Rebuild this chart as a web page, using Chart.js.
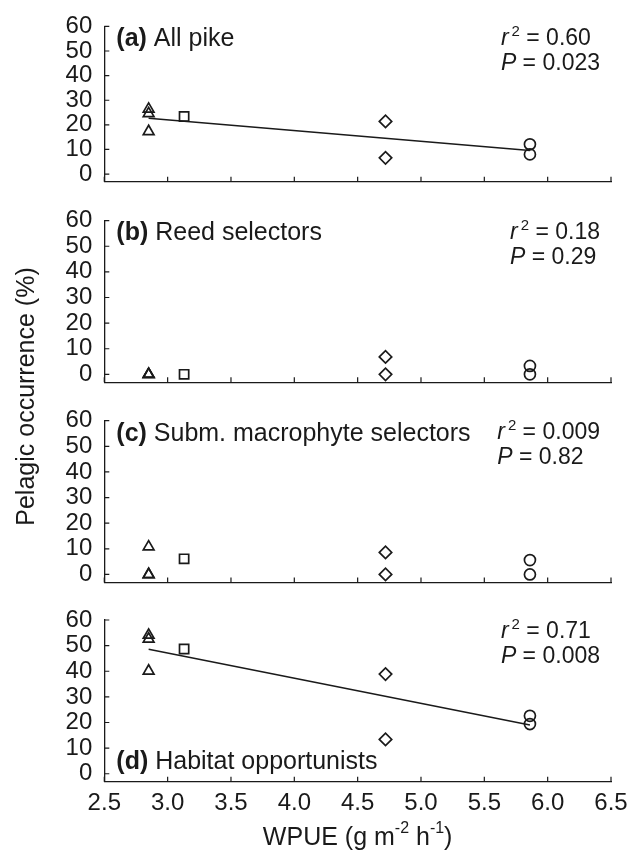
<!DOCTYPE html>
<html>
<head>
<meta charset="utf-8">
<title>Pelagic occurrence vs WPUE</title>
<script src="https://cdn.jsdelivr.net/npm/chart.js@4.4.1/dist/chart.umd.min.js"></script>
<style>
  html, body { margin: 0; padding: 0; background: #fff; }
  #wrap { position: relative; width: 642px; height: 857px; }
  #wrap canvas { position: absolute; left: 0; top: 0; }
</style>
</head>
<body>
<div id="wrap">
  <canvas id="panelA" width="642" height="857"></canvas>
  <canvas id="panelB" width="642" height="857"></canvas>
  <canvas id="panelC" width="642" height="857"></canvas>
  <canvas id="panelD" width="642" height="857"></canvas>
</div>
<script>
// ============================================================
// Pelagic occurrence of pike vs. WPUE – four stacked panels
// ============================================================

// ── Data ─────────────────────────────────────────────────────
const xTicks = [2.5, 3.0, 3.5, 4.0, 4.5, 5.0, 5.5, 6.0, 6.5];
const yTicks = [0, 10, 20, 30, 40, 50, 60];

// WPUE of each lake: triangle, square, diamond, circle
const lakeWpue = [2.85, 3.13, 4.72, 5.86];

// (a) All pike
const pikeTriangle = [26.4, 24.6, 17.3];
const pikeSquare   = [23.4];
const pikeDiamond  = [21.4, 6.6];
const pikeCircle   = [12.1, 8.0];

// (b) Reed selectors
const reedTriangle = [0, 0, 0];
const reedSquare   = [0];
const reedDiamond  = [6.8, 0];
const reedCircle   = [3.3, 0];

// (c) Subm. macrophyte selectors
const submTriangle = [10.8, 0, 0];
const submSquare   = [6.1];
const submDiamond  = [8.6, 0];
const submCircle   = [5.6, 0];

// (d) Habitat opportunists
const oppTriangle = [54.1, 52.6, 40.1];
const oppSquare   = [48.7];
const oppDiamond  = [38.9, 13.4];
const oppCircle   = [22.6, 19.4];

// Regression lines (end points)
const fitX    = [2.85, 5.86];
const pikeFit = [22.7, 9.6];
const oppFit  = [48.6, 19.0];

// ── Styles / layout ──────────────────────────────────────────
const FONT = "'Liberation Sans', Arial, Helvetica, sans-serif";
const INK = '#1a1a1a';
const markerStyle  = ['triangle', 'rect', 'rectRot', 'circle'];
const markerRadius = [6.2, 6.5, 6.2, 5.5];

const CANVAS_H   = 857;
const PLOT_LEFT  = 104.3;
const PLOT_RIGHT = 611;
const PLOT_H     = 161.7;
const Y_MIN = -3.1, Y_MAX = 60;

const panels = [
  { canvas: 'panelA', top: 20,    tag: '(a)', name: ' All pike',
    r2: '0.60', p: '0.023', values: [pikeTriangle, pikeSquare, pikeDiamond, pikeCircle], fit: pikeFit },
  { canvas: 'panelB', top: 220.6, tag: '(b)', name: ' Reed selectors',
    r2: '0.18', p: '0.29', values: [reedTriangle, reedSquare, reedDiamond, reedCircle], fit: null },
  { canvas: 'panelC', top: 420.7, tag: '(c)', name: ' Subm. macrophyte selectors',
    r2: '0.009', p: '0.82', values: [submTriangle, submSquare, submDiamond, submCircle], fit: null },
  { canvas: 'panelD', top: 620,   tag: '(d)', name: ' Habitat opportunists',
    r2: '0.71', p: '0.008', values: [oppTriangle, oppSquare, oppDiamond, oppCircle], fit: oppFit,
    labelBottom: true, isBottom: true }
];

// ── Helpers: draw runs of mixed-font text ────────────────────
function runsWidth(ctx, runs) {
  return runs.reduce((w, r) => {
    ctx.font = r.font;
    return w + ctx.measureText(r.text).width + (r.gap || 0);
  }, 0);
}

function drawRuns(ctx, runs, x, y) {
  runs.forEach(r => {
    ctx.font = r.font;
    x += r.gap || 0;
    ctx.fillText(r.text, x, y + (r.dy || 0));
    x += ctx.measureText(r.text).width;
  });
}

// ── Inward tick marks ────────────────────────────────────────
const innerTicks = {
  id: 'innerTicks',
  afterDraw(chart) {
    const { ctx, chartArea: a, scales: { x, y } } = chart;
    ctx.save();
    ctx.strokeStyle = INK;
    ctx.lineWidth = 1.2;
    ctx.beginPath();
    yTicks.forEach(v => {
      const py = y.getPixelForValue(v);
      ctx.moveTo(a.left, py);
      ctx.lineTo(a.left + 5, py);
    });
    xTicks.forEach(v => {
      const px = x.getPixelForValue(v);
      ctx.moveTo(px, a.bottom);
      ctx.lineTo(px, a.bottom - 5);
    });
    ctx.stroke();
    ctx.restore();
  }
};

// ── Panel label + statistics ─────────────────────────────────
function panelText(panel) {
  return {
    id: 'panelText',
    afterDraw(chart) {
      const { ctx, chartArea: a } = chart;
      ctx.save();
      ctx.fillStyle = INK;
      ctx.textBaseline = 'middle';
      ctx.textAlign = 'left';

      // panel label
      const labelY = panel.labelBottom ? a.bottom - 20 : a.top + 13;
      drawRuns(ctx, [
        { text: panel.tag,  font: `bold 25px ${FONT}` },
        { text: panel.name, font: `25px ${FONT}` }
      ], a.left + 12, labelY);

      // r² and P, block right-aligned
      const line1 = [
        { text: 'r', font: `italic 23px ${FONT}` },
        { text: '2', font: `15px ${FONT}`, dy: -7, gap: 3 },
        { text: ' = ' + panel.r2, font: `23px ${FONT}` }
      ];
      const line2 = [
        { text: 'P', font: `italic 23px ${FONT}` },
        { text: ' = ' + panel.p, font: `23px ${FONT}` }
      ];
      const w = Math.max(runsWidth(ctx, line1), runsWidth(ctx, line2));
      const left = 600 - w;
      drawRuns(ctx, line1, left, a.top + 12);
      drawRuns(ctx, line2, left, a.top + 37);

      // shared axis titles, drawn once on the bottom panel
      if (panel.isBottom) {
        const title = [
          { text: 'WPUE (g m', font: `25px ${FONT}` },
          { text: '-2', font: `16px ${FONT}`, dy: -9 },
          { text: ' h', font: `25px ${FONT}` },
          { text: '-1', font: `16px ${FONT}`, dy: -9 },
          { text: ')', font: `25px ${FONT}` }
        ];
        const tw = runsWidth(ctx, title);
        drawRuns(ctx, title, (a.left + a.right) / 2 - tw / 2, 838);

        ctx.translate(27.5, 396.5);
        ctx.rotate(-Math.PI / 2);
        ctx.textAlign = 'center';
        ctx.font = `25px ${FONT}`;
        ctx.fillText('Pelagic occurrence (%)', 0, 0);
      }
      ctx.restore();
    }
  };
}

// ── Build datasets for one panel ─────────────────────────────
function buildDatasets(panel) {
  const sets = panel.values.map((vals, i) => ({
    data: vals.map(v => ({ x: lakeWpue[i], y: v })),
    pointStyle: markerStyle[i],
    pointRadius: markerRadius[i],
    pointBorderWidth: 1.7,
    pointBorderColor: INK,
    pointBackgroundColor: 'rgba(0,0,0,0)',
    showLine: false,
    clip: false
  }));
  if (panel.fit) {
    sets.unshift({
      data: fitX.map((x, i) => ({ x, y: panel.fit[i] })),
      showLine: true,
      borderColor: INK,
      borderWidth: 1.5,
      pointRadius: 0,
      clip: false
    });
  }
  return sets;
}

// ── Create one chart per panel ───────────────────────────────
function makePanel(panel) {
  const plotBottom = panel.top + PLOT_H;
  const tickFont = { family: FONT, size: 24 };

  new Chart(document.getElementById(panel.canvas), {
    type: 'scatter',
    data: { datasets: buildDatasets(panel) },
    options: {
      responsive: false,
      animation: false,
      events: [],
      layout: {
        padding: {
          top: panel.top,
          left: 0,
          right: 642 - PLOT_RIGHT,
          bottom: panel.isBottom ? 0 : CANVAS_H - plotBottom
        }
      },
      plugins: { legend: { display: false }, tooltip: { enabled: false } },
      scales: {
        x: {
          type: 'linear',
          min: xTicks[0],
          max: xTicks[xTicks.length - 1],
          afterBuildTicks: s => { s.ticks = xTicks.map(v => ({ value: v })); },
          afterFit: s => { s.height = panel.isBottom ? CANVAS_H - plotBottom : 0; },
          grid: { display: false, drawTicks: false },
          border: { display: true, color: INK, width: 1.3 },
          ticks: {
            display: !!panel.isBottom,
            padding: 7,
            color: INK,
            font: tickFont,
            maxRotation: 0,
            autoSkip: false,
            callback: v => Number(v).toFixed(1)
          }
        },
        y: {
          type: 'linear',
          min: Y_MIN,
          max: Y_MAX,
          afterBuildTicks: s => { s.ticks = yTicks.map(v => ({ value: v })); },
          afterFit: s => { s.width = PLOT_LEFT; },
          grid: { display: false, drawTicks: false },
          border: { display: true, color: INK, width: 1.3 },
          ticks: {
            padding: 12,
            color: INK,
            font: tickFont,
            autoSkip: false,
            callback: v => String(v)
          }
        }
      }
    },
    plugins: [innerTicks, panelText(panel)]
  });
}

panels.forEach(makePanel);
</script>
</body>
</html>
